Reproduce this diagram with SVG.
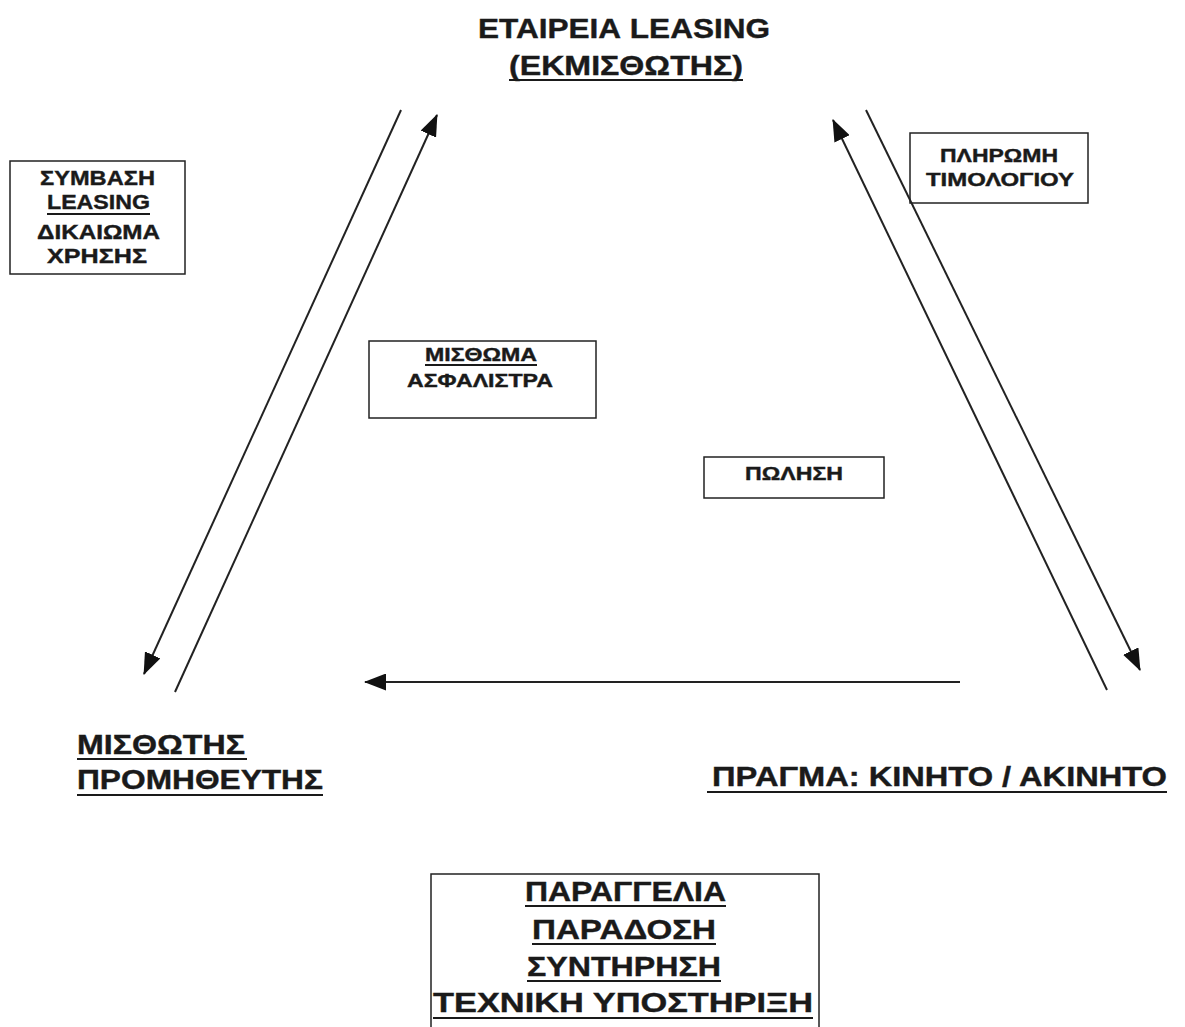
<svg xmlns="http://www.w3.org/2000/svg" width="1185" height="1027" viewBox="0 0 1185 1027">
<style>
text{font-family:"Liberation Sans",Arial,sans-serif;font-weight:bold;fill:#1a1a1a;stroke:#1a1a1a;stroke-width:0.4}
.box{fill:none;stroke:#222;stroke-width:1.5}
.ul{stroke:#1a1a1a;stroke-width:2}
.conn line{stroke:#222;stroke-width:2}
</style>
<defs>
<marker id="ah" viewBox="0 0 22 17" refX="21" refY="8.5" markerWidth="22" markerHeight="17" markerUnits="userSpaceOnUse" orient="auto">
<path d="M0,0 L22,8.5 L0,17 Z" fill="#111"/>
</marker>
</defs>
<rect width="1185" height="1027" fill="#fff"/>

<g id="lessor">
<text x="478" y="38" font-size="27" textLength="292" lengthAdjust="spacingAndGlyphs">ΕΤΑΙΡΕΙΑ LEASING</text>
<text x="509" y="75" font-size="27" textLength="234" lengthAdjust="spacingAndGlyphs">(ΕΚΜΙΣΘΩΤΗΣ)</text>
<line class="ul" x1="509" y1="80" x2="743" y2="80"/>
</g>

<g id="contract">
<rect class="box" x="10" y="161" width="175" height="113"/>
<text x="40" y="185" font-size="21" textLength="115" lengthAdjust="spacingAndGlyphs">ΣΥΜΒΑΣΗ</text>
<text x="47" y="209" font-size="21" textLength="103" lengthAdjust="spacingAndGlyphs">LEASING</text>
<line class="ul" x1="47" y1="214" x2="150" y2="214"/>
<text x="37" y="239" font-size="21" textLength="123" lengthAdjust="spacingAndGlyphs">ΔΙΚΑΙΩΜΑ</text>
<text x="47" y="263" font-size="21" textLength="100" lengthAdjust="spacingAndGlyphs">ΧΡΗΣΗΣ</text>
</g>

<g id="rent">
<rect class="box" x="369" y="341" width="227" height="77"/>
<text x="425" y="361" font-size="18" textLength="112" lengthAdjust="spacingAndGlyphs">ΜΙΣΘΩΜΑ</text>
<line class="ul" x1="425" y1="365" x2="537" y2="365"/>
<text x="407" y="387" font-size="18" textLength="146" lengthAdjust="spacingAndGlyphs">ΑΣΦΑΛΙΣΤΡΑ</text>
</g>

<g id="payment">
<rect class="box" x="910" y="133" width="178" height="70"/>
<text x="940" y="162" font-size="18" textLength="118" lengthAdjust="spacingAndGlyphs">ΠΛΗΡΩΜΗ</text>
<text x="926" y="186" font-size="18" textLength="148" lengthAdjust="spacingAndGlyphs">ΤΙΜΟΛΟΓΙΟΥ</text>
</g>

<g id="sale">
<rect class="box" x="704" y="457" width="180" height="41"/>
<text x="745" y="480" font-size="18" textLength="98" lengthAdjust="spacingAndGlyphs">ΠΩΛΗΣΗ</text>
</g>

<g id="lessee">
<text x="77" y="754" font-size="27" textLength="168" lengthAdjust="spacingAndGlyphs">ΜΙΣΘΩΤΗΣ</text>
<line class="ul" x1="77" y1="759" x2="247" y2="759"/>
<text x="77" y="789" font-size="27" textLength="246" lengthAdjust="spacingAndGlyphs">ΠΡΟΜΗΘΕΥΤΗΣ</text>
<line class="ul" x1="77" y1="795" x2="323" y2="795"/>
</g>

<g id="asset">
<text x="712" y="786" font-size="27" textLength="455" lengthAdjust="spacingAndGlyphs">ΠΡΑΓΜΑ: ΚΙΝΗΤΟ / ΑΚΙΝΗΤΟ</text>
<line class="ul" x1="707" y1="792" x2="1167" y2="792"/>
</g>

<g id="services">
<rect class="box" x="431" y="874" width="388" height="170"/>
<text x="525" y="901" font-size="28" textLength="201" lengthAdjust="spacingAndGlyphs">ΠΑΡΑΓΓΕΛΙΑ</text>
<line class="ul" x1="525" y1="906" x2="726" y2="906"/>
<text x="532" y="939" font-size="28" textLength="184" lengthAdjust="spacingAndGlyphs">ΠΑΡΑΔΟΣΗ</text>
<line class="ul" x1="532" y1="944" x2="716" y2="944"/>
<text x="527" y="976" font-size="28" textLength="194" lengthAdjust="spacingAndGlyphs">ΣΥΝΤΗΡΗΣΗ</text>
<line class="ul" x1="527" y1="981" x2="721" y2="981"/>
<text x="433" y="1012" font-size="28" textLength="380" lengthAdjust="spacingAndGlyphs">ΤΕΧΝΙΚΗ ΥΠΟΣΤΗΡΙΞΗ</text>
<line class="ul" x1="433" y1="1018" x2="813" y2="1018"/>
</g>

<g id="connectors" class="conn">
<line x1="401" y1="110" x2="144" y2="674" marker-end="url(#ah)"/>
<line x1="175" y1="692" x2="437" y2="115" marker-end="url(#ah)"/>
<line x1="866" y1="110" x2="1140" y2="670" marker-end="url(#ah)"/>
<line x1="1107" y1="690" x2="833" y2="120" marker-end="url(#ah)"/>
<line x1="960" y1="682" x2="365" y2="682" marker-end="url(#ah)"/>
</g>
</svg>
